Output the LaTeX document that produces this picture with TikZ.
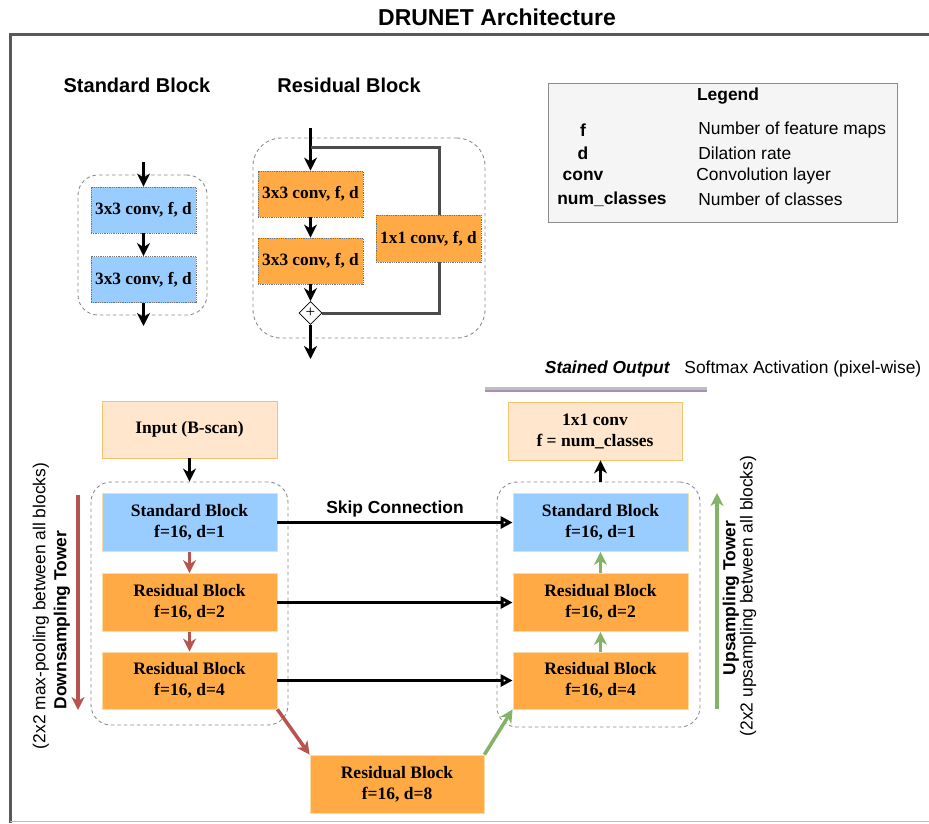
\documentclass[tikz,border=0pt]{standalone}
\usepackage{fontspec}
\setmainfont{Liberation Serif}
\setsansfont{Liberation Sans}
\usetikzlibrary{calc,arrows.meta,positioning,shapes.geometric}
\definecolor{stdblue}{HTML}{99CCFF}
\definecolor{resorange}{HTML}{FFAA44}
\definecolor{ioorange}{HTML}{FFE6CC}
\definecolor{ioborder}{HTML}{F2C46D}
\definecolor{downred}{HTML}{B85450}
\definecolor{upgreen}{HTML}{82B366}
\definecolor{softpurple}{HTML}{9673A6}

\begin{document}
\begin{tikzpicture}[x=1pt, y=-1pt, >={Stealth[length=13pt,width=13pt,inset=4pt]}, thick,
    arrowline/.style={->, line width=3pt, draw=black},
    tower/.style={draw=ioborder!60, line width=0.8pt, minimum width=175pt, minimum height=58pt, align=center, font=\fontsize{17.5}{21}\selectfont\bfseries},
    every node/.style={inner sep=1pt}]
    % Define styles for blocks, groups and labels
    \tikzstyle{conv} = [draw=black!55, densely dotted, line width=0.8pt, minimum width=105pt, minimum height=46pt, font=\fontsize{17.3}{20}\selectfont\bfseries]
    \tikzstyle{group} = [draw=black!45, dash pattern=on 3.5pt off 3pt, line width=0.9pt, rounded corners=20pt]
    \tikzstyle{heading} = [font=\sffamily\fontsize{20}{24}\selectfont\bfseries]
    \tikzstyle{legend} = [font=\sffamily\fontsize{17.4}{20}\selectfont]
    \tikzstyle{legendkey} = [font=\sffamily\fontsize{17.4}{20}\selectfont\bfseries]
    \tikzstyle{sideways} = [rotate=90, font=\sffamily\fontsize{17.4}{20}\selectfont]

    \useasboundingbox (0,0) rectangle (929,823);

    % Frame and title
    \node [heading, font=\sffamily\fontsize{23}{27}\selectfont\bfseries] (title) at (497,17) {DRUNET Architecture};
    \draw [line width=3pt, draw=black!65] (10,823) -- (10,34) -- (929,34);
    \draw [line width=1.2pt, draw=black!25] (10,821.5) -- (929,821.5);

    % Standard block
    \node [heading] (stdhead) at (137,85) {Standard Block};
    \node [group, minimum width=129pt, minimum height=140pt] (stdgroup) at (142.5,245) {};
    \node [conv, fill=stdblue] (stdconva) at (143.5,210) {3x3 conv, f, d};
    \node [conv, fill=stdblue, below of=stdconva, node distance=69.5pt] (stdconvb) {3x3 conv, f, d};
    \coordinate (stdin) at (143.5,162);
    \coordinate (stdout) at (143.5,326);
    \draw [arrowline] (stdin) -- (stdconva.north);
    \draw [arrowline] (stdconva.south) -- (stdconvb.north);
    \draw [arrowline] (stdconvb.south) -- (stdout);

    % Residual block
    \node [heading] (reshead) at (349,85) {Residual Block};
    \node [group, minimum width=232pt, minimum height=200pt, rounded corners=28pt] (resgroup) at (369,238) {};
    \node [conv, fill=resorange] (resconva) at (310.5,194) {3x3 conv, f, d};
    \node [conv, fill=resorange, below of=resconva, node distance=67pt] (resconvb) {3x3 conv, f, d};
    \node [conv, fill=resorange, minimum height=47pt] (resshort) at (428.5,238.5) {1x1 conv, f, d};
    \node [diamond, draw, fill=white, line width=0.8pt, minimum size=23pt, inner sep=0pt, font=\fontsize{17}{17}\selectfont] (resplus) at (310.5,313) {+};
    \coordinate (resin) at (310.5,128);
    \coordinate (ressplit) at (310.5,147);
    \coordinate (resout) at (310.5,359);
    \draw [arrowline] (resin) -- (resconva.north);
    \draw [arrowline] (resconva.south) -- (resconvb.north);
    \draw [arrowline] (resconvb.south) -- (resplus.north);
    \draw [arrowline] (resplus.south) -- (resout);
    \draw [line width=3pt, draw=black!70] (ressplit) -| ([xshift=10.5pt]resshort.north);
    \draw [line width=3pt, draw=black!70] ([xshift=10.5pt]resshort.south) |- (resplus.east);

    % Legend
    \node [draw=black!45, fill=black!4, line width=1pt, minimum width=349pt, minimum height=139pt] (legendbox) at (722.5,152.5) {};
    \node [legendkey] (legendhead) at (728,96) {Legend};
    \node [legendkey] (keyf) at (583,130) {f};
    \node [legendkey] (keyd) at (583,153) {d};
    \node [legendkey] (keyconv) at (583,176) {conv};
    \node [legendkey] (keyclasses) at (612,199) {num\_classes};
    \node [legend, anchor=west] (valf) at (697,130) {Number of feature maps};
    \node [legend, anchor=west] (vald) at (697,153) {Dilation rate};
    \node [legend, anchor=west] (valconv) at (695,176) {Convolution layer};
    \node [legend, anchor=west] (valclasses) at (697,199) {Number of classes};

    % Output and softmax
    \node [legendkey, font=\sffamily\fontsize{17.4}{20}\selectfont\bfseries\itshape, anchor=east] (stained) at (671,369) {Stained Output};
    \node [legend, anchor=west] (softmax) at (683,369) {Softmax Activation (pixel-wise)};
    \coordinate (barleft) at (485,390);
    \coordinate (barright) at (707,390);
    \draw [line width=2.5pt, draw=black!25] ([yshift=1.5pt]barleft) -- ([yshift=1.5pt]barright);
    \draw [line width=2.5pt, draw=softpurple!80] ([yshift=-1pt]barleft) -- ([yshift=-1pt]barright);
    \node [tower, fill=ioorange, draw=ioborder, minimum width=174pt] (outbox) at (595,431) {1x1 conv\\f = num\_classes};

    % Downsampling tower
    \node [tower, fill=ioorange, draw=ioborder, minimum height=57pt] (inbox) at (189.5,429.5) {Input (B-scan)};
    \node [group, minimum width=197pt, minimum height=243pt] (downgroup) at (189.5,603.5) {};
    \node [tower, fill=stdblue] (downa) at (189.5,522.5) {Standard Block\\f=16, d=1};
    \node [tower, fill=resorange, below of=downa, node distance=80pt] (downb) {Residual Block\\f=16, d=2};
    \node [tower, fill=resorange, below of=downb, node distance=78pt, minimum height=57pt] (downc) {Residual Block\\f=16, d=4};

    % Bottleneck
    \node [tower, fill=resorange, minimum width=174pt] (bottom) at (397,784) {Residual Block\\f=16, d=8};

    % Upsampling tower
    \node [group, minimum width=203pt, minimum height=245pt] (upgroup) at (598.5,604.5) {};
    \node [tower, fill=stdblue] (upa) at (600.5,522.5) {Standard Block\\f=16, d=1};
    \node [tower, fill=resorange, below of=upa, node distance=80pt] (upb) {Residual Block\\f=16, d=2};
    \node [tower, fill=resorange, below of=upb, node distance=78pt, minimum height=57pt] (upc) {Residual Block\\f=16, d=4};

    % Draw edges
    \draw [arrowline] (inbox.south) -- (downgroup.north);
    \draw [arrowline] (upgroup.north -| upa.north) -- (outbox.south -| upa.north);
    \draw [->, line width=3pt, draw=downred] (downa.south) -- (downb.north);
    \draw [->, line width=3pt, draw=downred] (downb.south) -- (downc.north);
    \draw [->, line width=3.5pt, draw=downred] (downc.south east) -- (bottom.north west);
    \draw [->, line width=3.5pt, draw=upgreen] (bottom.north east) -- (upc.south west);
    \draw [->, line width=3pt, draw=upgreen] (upc.north) -- (upb.south);
    \draw [->, line width=3pt, draw=upgreen] (upb.north) -- (upa.south);

    % Skip connections
    \draw [line width=3pt, -{Triangle[open, length=12pt, width=12pt]}] (downa.east) -- node[above, legendkey, yshift=3pt] {Skip Connection} (upa.west);
    \draw [line width=3pt, -{Triangle[open, length=12pt, width=12pt]}] (downb.east) -- (upb.west);
    \draw [line width=3pt, -{Triangle[open, length=12pt, width=12pt]}] (downc.east) -- (upc.west);

    % Tower arrows and labels
    \coordinate (downtop) at (78,495);
    \coordinate (downend) at (78,710);
    \coordinate (upbottom) at (717,709);
    \coordinate (uptop) at (717,493);
    \draw [->, line width=3.5pt, draw=downred] (downtop) -- (downend);
    \draw [->, line width=3.5pt, draw=upgreen] (upbottom) -- (uptop);
    \node [sideways, font=\sffamily\fontsize{17.4}{20}\selectfont\bfseries] (downlabel) at (62,620) {Downsampling Tower};
    \node [sideways] (downnote) at (41,606) {(2x2 max-pooling between all blocks)};
    \node [sideways, font=\sffamily\fontsize{17.4}{20}\selectfont\bfseries] (uplabel) at (731,598) {Upsampling Tower};
    \node [sideways] (upnote) at (748,596) {(2x2 upsampling between all blocks)};
\end{tikzpicture}
\end{document}
